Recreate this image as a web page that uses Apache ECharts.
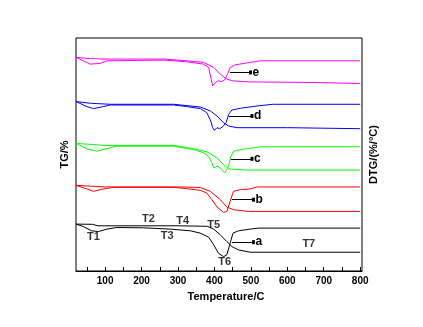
<!DOCTYPE html>
<html>
<head>
<meta charset="utf-8">
<script src="https://cdn.jsdelivr.net/npm/echarts@6/dist/echarts.min.js"></script>
<style>
  html, body { margin: 0; padding: 0; background: #fff; }
  #chart { width: 423px; height: 327px; }
</style>
</head>
<body>
<div id="chart"></div>
<script>
// temperature (°C) vs vertical offset (arbitrary units, curves stacked)
var tgA = [[20,46.7],[65,46.5],[80,45],[200,45],[300,45],[380,44.5],[398,41.7],[416,36],[434,29.3],[448,24.3],[466,21],[498,18.7],[800,18.7]]
var dtgA = [[20,46.7],[40,44.3],[63,40],[82,39.3],[105,41.7],[132,43.3],[205,43],[279,41.7],[334,40],[361,37.7],[384,33.7],[398,26],[411,17.7],[425,14.3],[434,16],[443,27.7],[451,37.7],[466,40],[498,41.7],[521,42.7],[800,42.7]]

var tgB = [[20,85.3],[60,84.5],[100,83.7],[300,83.7],[361,83.2],[389,79.3],[416,71],[434,63.7],[452,61],[494,59.3],[800,59.3]]
var dtgB = [[20,85.3],[50,81.7],[68,79.3],[95,81.7],[123,83.3],[288,83.3],[324,82],[361,80.3],[379,77.7],[393,71],[407,63.7],[425,58.3],[434,59.3],[443,69.3],[452,79.3],[471,81],[498,81.7],[517,83.7],[800,83.7]]

var tgC = [[20,127],[65,126],[100,125],[288,125],[343,121.7],[379,118.7],[407,112.7],[425,106],[439,101.7],[462,101],[494,100.5],[800,100.5]]
var dtgC = [[20,127],[50,121.7],[77,119.3],[114,122.7],[132,124.3],[288,124.3],[343,121],[370,117.7],[384,114.3],[393,107.7],[398,102.7],[407,104.3],[416,102.7],[428,97.7],[439,104.3],[445,114.3],[453,119.3],[476,121],[508,122.7],[526,123.7],[800,123.7]]

var tgD = [[20,168.7],[60,167],[114,166],[288,166],[361,163.3],[389,159.3],[407,154.3],[425,147.7],[439,144.3],[462,142.7],[600,142.7],[605,141.7],[800,141.7]]
var dtgD = [[20,168.7],[50,163.7],[68,161.7],[95,163.7],[114,165.3],[288,165.3],[324,163.7],[361,161.7],[379,157.7],[390,149.3],[395,142.7],[400,140],[407,142.7],[414,141.7],[423,143.7],[432,147.7],[439,156],[448,160.3],[471,162],[517,164.3],[560,166],[800,166]]

var tgE = [[20,212.7],[60,211.5],[100,211],[263,211],[324,209.3],[370,207.7],[398,202.7],[416,196],[434,191],[452,189.3],[494,188.3],[670,187.7],[672,186.7],[800,186.7]]
var dtgE = [[20,212.7],[40,209.3],[59,206],[86,206.7],[105,209.3],[263,210],[324,208.3],[370,206],[384,202.7],[390,192.7],[395,184.3],[398,182.7],[403,187.7],[411,189.3],[420,188.7],[428,190.3],[436,196],[443,202.7],[457,205.3],[498,207.7],[526,209.3],[800,209.3]]

// sample labels: name, arrow start T, arrow end T, level
var sampleTags = [['a',448,507,28.7],['b',448,507,71],['c',445,503,111.7],['d',439,503,154.3],['e',443,499,197.7]]
// characteristic temperature labels
var tLabels = [[68,33.7,'T1'],[219,52,'T2'],[270,35.3,'T3'],[313,50.3,'T4'],[398,46,'T5'],[428,9.3,'T6'],[659,27,'T7']]

var majorTicks = [100,200,300,400,500,600,700,800]
var allTicks = [50,100,150,200,250,300,350,400,450,500,550,600,650,700,750,800]

var colors = ['#000000','#ff0000','#00ff00','#0000ff','#ff00ff']
var tgList = [tgA, tgB, tgC, tgD, tgE]
var dtgList = [dtgA, dtgB, dtgC, dtgD, dtgE]

var font = 'Liberation Sans'

var myChart = echarts.init(document.getElementById('chart'))

var series = []
for (var i = 0; i < 5; i++) {
    var tag = sampleTags[i]
    series.push({
        name: 'TG ' + tag[0],
        type: 'line',
        data: tgList[i],
        showSymbol: false,
        lineStyle: { color: colors[i], width: 1 },
        silent: true,
        animation: false
    })
    series.push({
        name: 'DTG ' + tag[0],
        type: 'line',
        data: dtgList[i],
        showSymbol: false,
        lineStyle: { color: colors[i], width: 1 },
        silent: true,
        animation: false,
        markLine: {
            silent: true,
            animation: false,
            symbol: ['none', 'rect'],
            symbolSize: [4, 3],
            lineStyle: { color: '#000', width: 1, type: 'solid' },
            label: {
                show: true,
                position: 'end',
                distance: 2,
                formatter: tag[0],
                color: '#000',
                fontFamily: font,
                fontWeight: 'bold',
                fontSize: 12
            },
            data: [[{ coord: [tag[1], tag[3]] }, { coord: [tag[2], tag[3]] }]]
        }
    })
}

series.push({
    type: 'scatter',
    data: tLabels,
    symbolSize: 0,
    silent: true,
    animation: false,
    label: {
        show: true,
        position: 'inside',
        formatter: function (p) { return p.data[2] },
        color: '#000',
        fontFamily: font,
        fontWeight: 'bold',
        fontSize: 11
    }
})

var option = {
    backgroundColor: '#fff',
    animation: false,
    grid: {
        left: 76, right: 61, top: 38, bottom: 56,
        show: true, borderColor: '#000', borderWidth: 1
    },
    xAxis: {
        type: 'value',
        min: 20,
        max: 805,
        name: 'Temperature/C',
        nameLocation: 'middle',
        nameGap: 20,
        nameTextStyle: { color: '#000', fontFamily: font, fontWeight: 'bold', fontSize: 11, padding: [0, 0, 0, 14] },
        axisLine: { show: true, lineStyle: { color: '#000', width: 1 } },
        axisTick: { show: true, inside: true, length: 4, lineStyle: { color: '#000' }, customValues: allTicks },
        axisLabel: { color: '#000', fontFamily: font, fontWeight: 'bold', fontSize: 10, margin: 5, customValues: majorTicks },
        splitLine: { show: false }
    },
    yAxis: [
        {
            type: 'value',
            min: 0,
            max: 232,
            name: 'TG/%',
            nameLocation: 'middle',
            nameRotate: 90,
            nameGap: 6,
            nameTextStyle: { color: '#000', fontFamily: font, fontWeight: 'bold', fontSize: 11 },
            axisLine: { show: false },
            axisTick: { show: false },
            axisLabel: { show: false },
            splitLine: { show: false }
        },
        {
            type: 'value',
            min: 0,
            max: 232,
            position: 'right',
            name: 'DTG/(%/°C)',
            nameLocation: 'middle',
            nameRotate: 90,
            nameGap: 6,
            nameTextStyle: { color: '#000', fontFamily: font, fontWeight: 'bold', fontSize: 11 },
            axisLine: { show: false },
            axisTick: { show: false },
            axisLabel: { show: false },
            splitLine: { show: false }
        }
    ],
    series: series
}
myChart.setOption(option)
</script>
</body>
</html>
